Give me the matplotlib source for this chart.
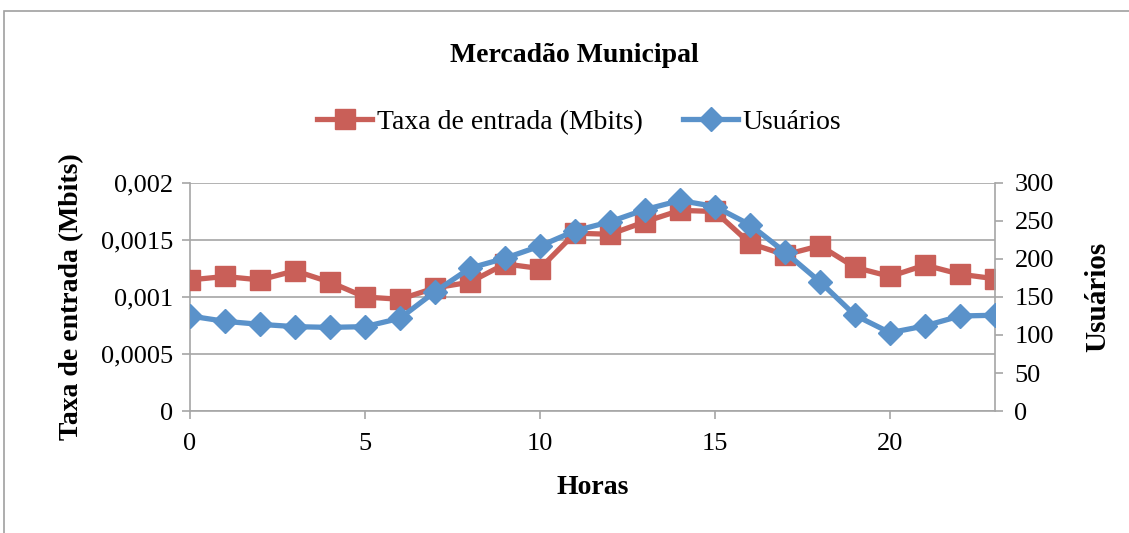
import matplotlib
matplotlib.use("Agg")
import matplotlib.pyplot as plt
from matplotlib.lines import Line2D
from matplotlib.patches import Rectangle

plt.rcParams['font.family'] = ['Liberation Serif', 'DejaVu Serif']

horas = list(range(24))
taxa = [0.00115, 0.00118, 0.00115, 0.00123, 0.00113, 0.00100, 0.00098, 0.00108,
        0.00113, 0.00129, 0.00125, 0.00156, 0.00155, 0.00166, 0.00176, 0.00175,
        0.00147, 0.00137, 0.00145, 0.00126, 0.00118, 0.00128, 0.00120, 0.00116]
usuarios = [125, 118, 114, 111, 110, 111, 122, 157, 188, 201, 217, 237,
            249, 265, 277, 269, 245, 209, 170, 126, 103, 112, 125, 126]

left_ticks = [0, 0.0005, 0.001, 0.0015, 0.002]
left_labels = ['0', '0,0005', '0,001', '0,0015', '0,002']
right_ticks = [0, 50, 100, 150, 200, 250, 300]
x_ticks = [0, 5, 10, 15, 20]

RED = '#C95F58'
BLUE = '#5A92CA'
GRID = '#A6A6A6'

fig = plt.figure(figsize=(11.29, 5.33), dpi=100)
fig.patches.append(Rectangle((4/1129, -0.1), 1.2, 1 - 11/533 + 0.1,
                             transform=fig.transFigure, fill=False,
                             edgecolor='#A0A0A0', linewidth=1.2))

ax = fig.add_axes([190/1129, 1 - 411/533, (995-190)/1129, (411-183)/533])
ax2 = ax.twinx()

ax.plot(horas, taxa, color=RED, linewidth=3.8, marker='s', markersize=14,
        markeredgecolor=RED, zorder=3)
ax2.plot(horas, usuarios, color=BLUE, linewidth=3.8, marker='D', markersize=12.5,
         markeredgecolor=BLUE, zorder=3)

ax.set_xlim(0, 23)
ax.set_ylim(0, 0.002)
ax2.set_ylim(0, 300)
ax.set_xticks(x_ticks)
ax.set_xticklabels([str(t) for t in x_ticks])
ax.set_yticks(left_ticks)
ax.set_yticklabels(left_labels)
ax2.set_yticks(right_ticks)
ax2.set_yticklabels([str(t) for t in right_ticks])

ax.grid(axis='y', color=GRID, linewidth=1.2)
ax.set_axisbelow(True)
for a in (ax, ax2):
    for s in a.spines.values():
        s.set_color(GRID)
        s.set_linewidth(1.2)
    a.spines['top'].set_visible(False)
ax.spines['right'].set_visible(False)
ax2.spines['left'].set_visible(False)
ax2.spines['bottom'].set_visible(False)

ax.tick_params(axis='both', colors=GRID, labelcolor='black', labelsize=19,
               length=6, width=1.2)
ax2.tick_params(axis='y', colors=GRID, labelcolor='black', labelsize=19,
                length=6, width=1.2, pad=8)
ax.tick_params(axis='x', pad=10)
ax.tick_params(axis='y', pad=6)

ax.set_xlabel('Horas', fontsize=20, fontweight='bold', labelpad=14)
ax.set_ylabel('Taxa de entrada (Mbits)', fontsize=20, fontweight='bold', labelpad=12)
ax2.set_ylabel('Usuários', fontsize=21, fontweight='bold', labelpad=22)

fig.text(574/1129, 1 - 55/533, 'Mercadão Municipal', ha='center', va='center',
         fontsize=20, fontweight='bold')

handles = [Line2D([], [], color=RED, linewidth=3.8, marker='s', markersize=14),
           Line2D([], [], color=BLUE, linewidth=3.8, marker='D', markersize=12.5)]
fig.legend(handles, ['Taxa de entrada (Mbits)', 'Usuários'], loc='center',
           bbox_to_anchor=(579/1129, 1 - 122/533), ncol=2, frameon=False,
           fontsize=20, handlelength=2.0, handletextpad=0.15, columnspacing=1.45)

fig.savefig('out.png', dpi=100)
